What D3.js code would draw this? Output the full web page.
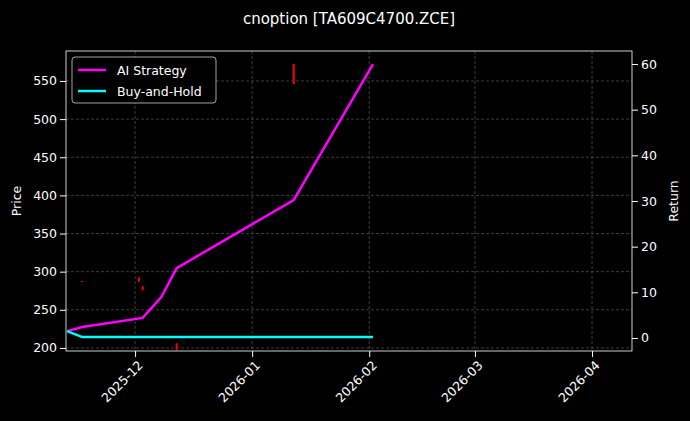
<!DOCTYPE html><html><head><meta charset="utf-8">
<script src="https://cdn.jsdelivr.net/npm/d3@7"></script>
<style>body{margin:0;background:#000}svg{font-family:"DejaVu Sans",sans-serif}</style></head><body>
<svg id="c" width="690" height="421"></svg>
<script>
const lineDates=["2025-11-13","2025-11-17","2025-12-03","2025-12-08","2025-12-12","2026-01-12","2026-02-02"];
const aiReturn=[1.5,2.4,4.4,9.0,15.3,30.2,60.0];
const bhReturn=[1.5,0.2,0.2,0.2,0.2,0.2,0.2];
const candleDates=["2025-11-17","2025-12-02","2025-12-03","2025-12-12","2026-01-12"];
const cOpen=[287.8,292,281,206,572];
const cClose=[287.5,287,276,198,546];
const cHigh=[288,293,281,206,572];
const cLow=[287.3,286,275,197,546];
const priceTicks=[200,250,300,350,400,450,500,550];
const returnTicks=[0,10,20,30,40,50,60];
const dateTicks=["2025-12-01","2026-01-01","2026-02-01","2026-03-01","2026-04-01"];
const P=d3.utcParse("%Y-%m-%d");
const svg=d3.select("#c");
const L=66,R=632,T=51,B=351;
const x=d3.scaleUtc().domain([new Date(Date.UTC(2025,10,12,17)),new Date(Date.UTC(2026,3,11,14))]).range([L,R]);
const yP=d3.scaleLinear().domain([196,589.3]).range([B,T]);
const yR=d3.scaleLinear().domain([-2.85,62.85]).range([B,T]);
const g=svg.append("g");
g.selectAll(".gx").data(dateTicks).join("line").attr("x1",d=>x(P(d))).attr("x2",d=>x(P(d))).attr("y1",T).attr("y2",B).attr("stroke","#666").attr("stroke-dasharray","3,2").attr("stroke-width",0.6);
g.selectAll(".gy").data(priceTicks).join("line").attr("x1",L).attr("x2",R).attr("y1",d=>yP(d)).attr("y2",d=>yP(d)).attr("stroke","#666").attr("stroke-dasharray","3,2").attr("stroke-width",0.6);
const cd=candleDates.map((d,i)=>({d:P(d),o:cOpen[i],c:cClose[i],h:cHigh[i],l:cLow[i]}));
g.selectAll(".wk").data(cd).join("line").attr("x1",d=>x(d.d)).attr("x2",d=>x(d.d)).attr("y1",d=>yP(d.h)).attr("y2",d=>yP(d.l)).attr("stroke",d=>d.c>=d.o?"#1a9a1a":"#ff0000").attr("stroke-width",1);
g.selectAll(".bd").data(cd).join("rect").attr("x",d=>x(d.d)-1).attr("width",2).attr("y",d=>yP(Math.max(d.o,d.c))).attr("height",d=>Math.max(1,Math.abs(yP(d.o)-yP(d.c)))).attr("fill",d=>d.c>=d.o?"#1a9a1a":"#ff0000");
const ln=d3.line().x(d=>x(d[0])).y(d=>yR(d[1]));
g.append("path").attr("d",ln(lineDates.map((d,i)=>[P(d),aiReturn[i]]))).attr("fill","none").attr("stroke","#ff00ff").attr("stroke-width",2.5);
g.append("path").attr("d",ln(lineDates.map((d,i)=>[P(d),bhReturn[i]]))).attr("fill","none").attr("stroke","#00ffff").attr("stroke-width",2.5);
svg.append("rect").attr("x",L).attr("y",T).attr("width",R-L).attr("height",B-T).attr("fill","none").attr("stroke","#fff").attr("stroke-width",0.8);
const ax=svg.append("g").attr("transform",`translate(0,${B})`).call(d3.axisBottom(x).tickValues(dateTicks.map(P)).tickFormat(d3.utcFormat("%Y-%m")).tickSizeOuter(0));
ax.selectAll("text").attr("transform","rotate(-45)").style("text-anchor","end").attr("dx","-0.4em").attr("dy","0.6em").attr("font-size",12.5);
const ayl=svg.append("g").attr("transform",`translate(${L},0)`).call(d3.axisLeft(yP).tickValues(priceTicks).tickSizeOuter(0));
ayl.selectAll("text").attr("font-size",12.5);
const ayr=svg.append("g").attr("transform",`translate(${R},0)`).call(d3.axisRight(yR).tickValues(returnTicks).tickSizeOuter(0));
ayr.selectAll("text").attr("font-size",12.5);
svg.selectAll(".domain").remove();
svg.selectAll(".tick line").attr("stroke","#fff");
svg.selectAll(".tick text").attr("fill","#fff").attr("font-family","DejaVu Sans");
svg.append("text").attr("x",349).attr("y",24).attr("text-anchor","middle").attr("fill","#fff").attr("font-size",15).text("cnoption [TA609C4700.ZCE]");
svg.append("text").attr("transform","translate(21,201) rotate(-90)").attr("text-anchor","middle").attr("fill","#fff").attr("font-size",12.5).text("Price");
svg.append("text").attr("transform","translate(678,201) rotate(-90)").attr("text-anchor","middle").attr("fill","#fff").attr("font-size",12.5).text("Return");
const lg=svg.append("g");
lg.append("rect").attr("x",72).attr("y",57).attr("width",144).attr("height",46).attr("rx",3).attr("fill","#000").attr("stroke","#ccc").attr("stroke-width",0.8);
[["AI Strategy","#ff00ff"],["Buy-and-Hold","#00ffff"]].forEach((e,i)=>{
 const yy=70+i*21;
 lg.append("line").attr("x1",78).attr("x2",106).attr("y1",yy).attr("y2",yy).attr("stroke",e[1]).attr("stroke-width",2.5);
 lg.append("text").attr("x",117).attr("y",yy+4.5).attr("fill","#fff").attr("font-size",12.5).text(e[0]);
});
</script></body></html>
